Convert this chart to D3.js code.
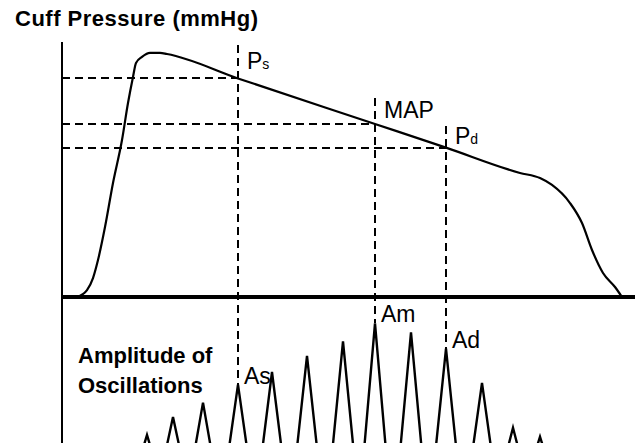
<!DOCTYPE html>
<html>
<head>
<meta charset="utf-8">
<script src="https://cdn.jsdelivr.net/npm/d3@7"></script>
<style>
  body { margin: 0; background: #fff; }
  text { font-family: "Liberation Sans", Arial, sans-serif; fill: #000; }
</style>
</head>
<body>
<div id="chart"></div>
<script>
// cuff pressure curve (time in s, pressure in mmHg)
const curveTime = [1.5, 2.5, 3.1, 3.6, 4.3, 5.1, 6.0, 6.6, 7.1, 7.4, 8.0, 8.8, 9.8, 10.5,
  17.6, 31.3, 38.4, 45.8, 47.8, 49.0, 50.8, 52.0, 53.0, 54.1, 55.3, 56.0];
const curvePressure = [0, 3.8, 10.4, 20.3, 38.4, 62.6, 86.2, 106.5, 120.8, 128.5, 131.8, 134, 134, 133.4,
  120, 95, 82, 68.1, 65.3, 61.5, 51.6, 40.6, 25.8, 13.2, 5.5, 0];

// oscillation peaks (time in s, relative amplitude)
const oscTime = [8.5, 11.1, 14.1, 17.6, 21.0, 24.5, 28.1, 31.3, 34.9, 38.4, 42.0, 45.1, 47.8];
const oscAmp = [0.25, 0.35, 0.43, 0.53, 0.60, 0.69, 0.77, 0.87, 0.82, 0.73, 0.54, 0.29, 0.24];

// markers: systolic, mean, diastolic
const markerName = ["P", "MAP", "P"];
const markerSub = ["s", "", "d"];
const markerTime = [17.6, 31.3, 38.4];
const markerPressure = [120, 95, 82];
const markerTop = [138.4, 109.3, 93.9];   // where the dashed guide starts (mmHg)
const markerOsc = [3, 7, 9];               // index of matching oscillation peak
const ampLabel = ["As", "Am", "Ad"];

const width = 635, height = 443;

const svg = d3.select("#chart")
  .append("svg")
    .attr("width", width)
    .attr("height", height);

const x = d3.scaleLinear().domain([0, 57.3]).range([62, 635]);
const yP = d3.scaleLinear().domain([0, 140]).range([297, 42]);
const yA = d3.scaleLinear().domain([0, 1]).range([480, 300]);

// dashed guides
const dash = "8,5";
markerTime.forEach((t, i) => {
  // horizontal from axis to curve
  svg.append("line")
    .attr("x1", x(0)).attr("x2", x(t))
    .attr("y1", yP(markerPressure[i])).attr("y2", yP(markerPressure[i]))
    .attr("stroke", "#000").attr("stroke-width", 2)
    .attr("stroke-dasharray", dash)
    .attr("shape-rendering", "crispEdges");
  // vertical down to oscillation peak
  svg.append("line")
    .attr("x1", x(t)).attr("x2", x(t))
    .attr("y1", yP(markerTop[i])).attr("y2", yA(oscAmp[markerOsc[i]]))
    .attr("stroke", "#000").attr("stroke-width", 2)
    .attr("stroke-dasharray", dash)
    .attr("shape-rendering", "crispEdges");
});

// axes
svg.append("line")
  .attr("x1", x(0)).attr("x2", x(0))
  .attr("y1", yP(140)).attr("y2", height)
  .attr("stroke", "#000").attr("stroke-width", 2)
  .attr("shape-rendering", "crispEdges");
svg.append("line")
  .attr("x1", x(0)).attr("x2", width)
  .attr("y1", yP(0)).attr("y2", yP(0))
  .attr("stroke", "#000").attr("stroke-width", 4)
  .attr("shape-rendering", "crispEdges");

// cuff pressure curve
const pressureLine = d3.line()
  .x((d, i) => x(curveTime[i]))
  .y(d => yP(d))
  .curve(d3.curveMonotoneX);
svg.append("path")
  .datum(curvePressure)
  .attr("d", pressureLine)
  .attr("fill", "none")
  .attr("stroke", "#000")
  .attr("stroke-width", 2.2);

// oscillations as triangular pulses
const halfW = 1.35;
const oscPts = [];
oscTime.forEach((t, i) => {
  oscPts.push([t - halfW, 0], [t, oscAmp[i]], [t + halfW, 0]);
});
svg.append("path")
  .datum(oscPts)
  .attr("d", d3.line().x(d => x(d[0])).y(d => yA(d[1])))
  .attr("fill", "none")
  .attr("stroke", "#000")
  .attr("stroke-width", 2.4);

// marker labels
markerTime.forEach((t, i) => {
  const mid = (yP(markerTop[i]) + yP(markerPressure[i])) / 2 + 7;
  const lbl = svg.append("text")
    .attr("x", x(t) + 9)
    .attr("y", mid)
    .style("font-size", "23px");
  lbl.append("tspan").text(markerName[i]);
  if (markerSub[i]) {
    lbl.append("tspan").text(markerSub[i]).style("font-size", "14px");
  }
});

// amplitude labels
markerOsc.forEach((k, i) => {
  svg.append("text")
    .attr("x", x(oscTime[k]) + 6)
    .attr("y", yA(oscAmp[k]) - 1)
    .style("font-size", "23px")
    .text(ampLabel[i]);
});

// titles
svg.append("text")
  .attr("x", 15).attr("y", 26)
  .style("font-size", "22px").style("font-weight", "bold")
  .style("letter-spacing", "0.5px")
  .text("Cuff Pressure (mmHg)");
svg.append("text")
  .attr("x", 78).attr("y", 363)
  .style("font-size", "22px").style("font-weight", "bold")
  .text("Amplitude of");
svg.append("text")
  .attr("x", 78).attr("y", 393)
  .style("font-size", "22px").style("font-weight", "bold")
  .text("Oscillations");
</script>
</body>
</html>
